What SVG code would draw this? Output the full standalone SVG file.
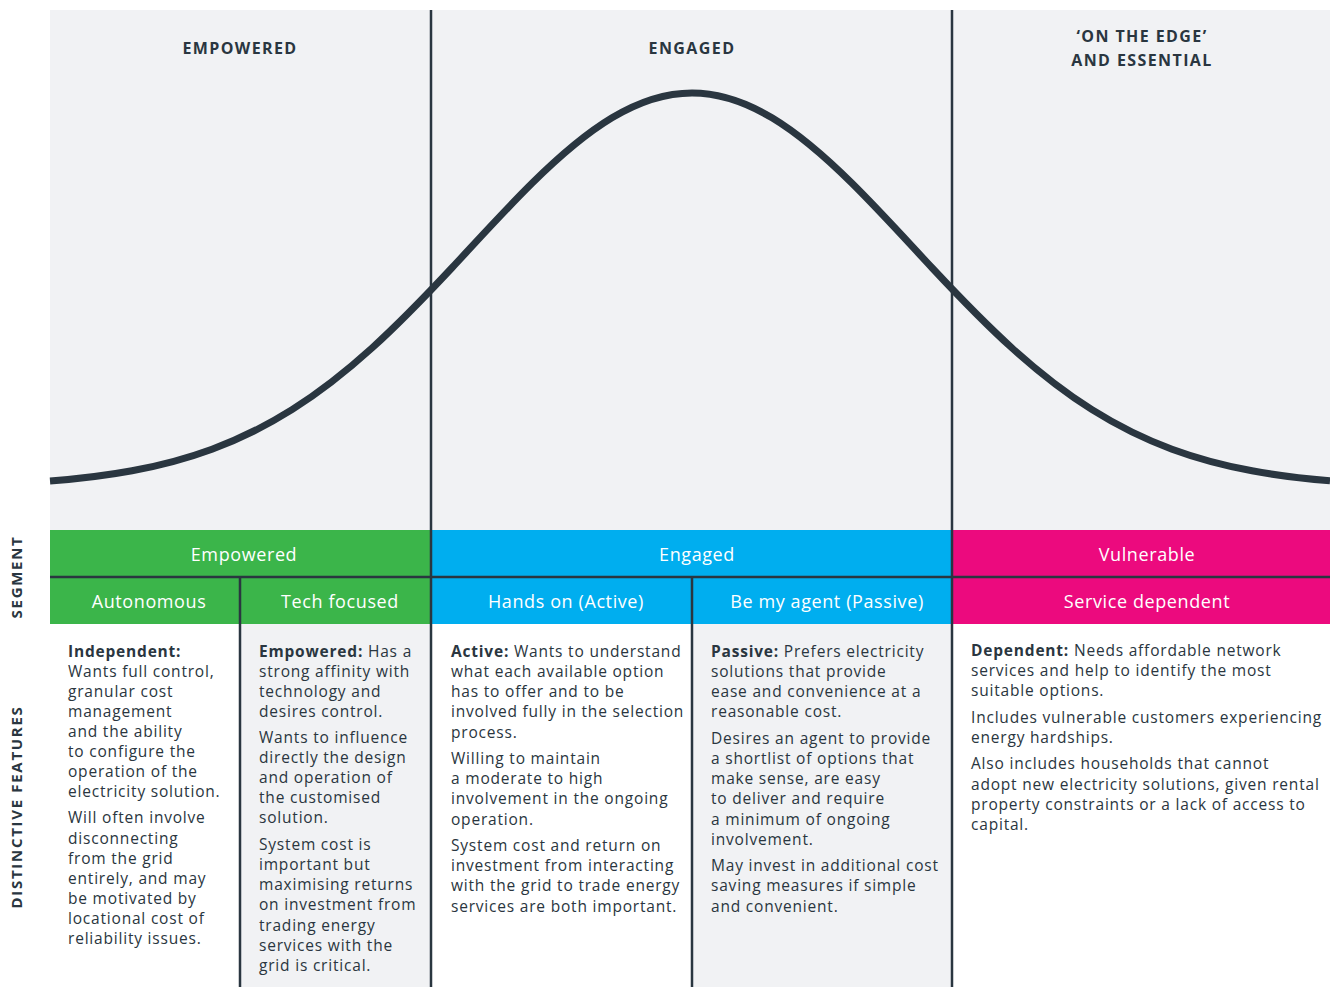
<svg xmlns="http://www.w3.org/2000/svg" width="1330" height="987" viewBox="0 0 1330 987">
  <style>
    .panel { fill: #f1f2f4; }
    .rule { stroke: #2a3640; stroke-width: 2.5; fill: none; }
    .head { font-family: "Open Sans", "Liberation Sans", sans-serif; font-weight: 700; font-size: 16px; letter-spacing: 1.4px; fill: #2a3640; text-anchor: middle; }
    .side { font-family: "Open Sans", "Liberation Sans", sans-serif; font-weight: 700; font-size: 15px; letter-spacing: 1.7px; fill: #2a3640; text-anchor: middle; }
    .bar { font-family: "Open Sans", "Liberation Sans", sans-serif; font-size: 18px; letter-spacing: 0.6px; fill: #ffffff; text-anchor: middle; }
    .body { font-family: "Open Sans", "Liberation Sans", sans-serif; font-size: 15.5px; letter-spacing: 0.8px; fill: #2a3640; }
    .b { font-weight: 700; }
  </style>

  <!-- background panels -->
  <rect width="1330" height="987" fill="#ffffff"/>
  <rect class="panel" x="50" y="10" width="1280" height="520"/>
  <rect class="panel" x="240" y="624" width="191" height="363"/>
  <rect class="panel" x="692" y="624" width="260" height="363"/>

  <!-- segment bars -->
  <g id="segment-empowered">
    <rect x="50" y="530" width="381" height="94" fill="#3bb54a"/>
    <text class="bar" x="244" y="561">Empowered</text>
    <text class="bar" x="149" y="608">Autonomous</text>
    <text class="bar" x="340" y="608">Tech focused</text>
  </g>
  <g id="segment-engaged">
    <rect x="431" y="530" width="521" height="94" fill="#00aeef"/>
    <text class="bar" x="697" y="561">Engaged</text>
    <text class="bar" x="566" y="608">Hands on (Active)</text>
    <text class="bar" x="827" y="608">Be my agent (Passive)</text>
  </g>
  <g id="segment-vulnerable">
    <rect x="952" y="530" width="378" height="94" fill="#ec0a7e"/>
    <text class="bar" x="1147" y="561">Vulnerable</text>
    <text class="bar" x="1147" y="608">Service dependent</text>
  </g>

  <!-- divider rules -->
  <g id="rules">
    <line class="rule" x1="431" y1="10" x2="431" y2="987"/>
    <line class="rule" x1="952" y1="10" x2="952" y2="987"/>
    <line class="rule" x1="50" y1="577" x2="1330" y2="577"/>
    <line class="rule" x1="240" y1="577" x2="240" y2="987"/>
    <line class="rule" x1="692" y1="577" x2="692" y2="987"/>
  </g>

  <!-- distribution curve -->
  <path id="curve" fill="none" stroke="#2a3640" stroke-width="7"
    d="M50,481.05 C77.33,478.93 104.67,475.84 132,470.79
       C158.67,465.86 185.33,459.05 212,449.21
       C238.67,439.37 265.33,426.44 292,409.65
       C318.67,392.86 345.33,372.14 372,348
       C398.67,323.86 425.33,296.3 452,267.75
       C478.67,239.2 505.33,209.71 532,183.34
       C558.67,156.97 585.33,133.87 612,117.84
       C638.67,101.81 665.33,93 692,93
       C718.67,93 745.33,101.81 772,117.84
       C798.67,133.87 825.33,156.97 852,183.34
       C878.67,209.71 905.33,239.2 932,267.75
       C958.67,296.3 985.33,323.86 1012,348
       C1038.67,372.14 1065.33,392.86 1092,409.65
       C1118.67,426.44 1145.33,439.37 1172,449.21
       C1198.67,459.05 1225.33,465.86 1252,470.79
       C1278,475.59 1304,478.63 1330,480.74"/>

  <!-- group headings -->
  <g id="headings">
    <text class="head" x="240" y="54">EMPOWERED</text>
    <text class="head" x="692" y="54">ENGAGED</text>
    <text class="head" x="1142" y="42">‘ON THE EDGE’</text>
    <text class="head" x="1142" y="66">AND ESSENTIAL</text>
  </g>

  <!-- row labels -->
  <g id="row-labels">
    <text class="side" transform="translate(22,577) rotate(-90)">SEGMENT</text>
    <text class="side" transform="translate(22,807) rotate(-90)">DISTINCTIVE FEATURES</text>
  </g>

  <!-- feature descriptions -->
  <g id="features-autonomous">
    <text class="body">
      <tspan x="68" y="657" class="b">Independent:</tspan>
      <tspan x="68" y="677">Wants full control,</tspan>
      <tspan x="68" y="697">granular cost</tspan>
      <tspan x="68" y="717">management</tspan>
      <tspan x="68" y="737">and the ability</tspan>
      <tspan x="68" y="757">to configure the</tspan>
      <tspan x="68" y="777">operation of the</tspan>
      <tspan x="68" y="797">electricity solution.</tspan>
      <tspan x="68" y="823">Will often involve</tspan>
      <tspan x="68" y="844">disconnecting</tspan>
      <tspan x="68" y="864">from the grid</tspan>
      <tspan x="68" y="884">entirely, and may</tspan>
      <tspan x="68" y="904">be motivated by</tspan>
      <tspan x="68" y="924">locational cost of</tspan>
      <tspan x="68" y="944">reliability issues.</tspan>
    </text>
  </g>
  <g id="features-tech-focused">
    <text class="body">
      <tspan x="259" y="657"><tspan class="b">Empowered:</tspan> Has a</tspan>
      <tspan x="259" y="677">strong affinity with</tspan>
      <tspan x="259" y="697">technology and</tspan>
      <tspan x="259" y="717">desires control.</tspan>
      <tspan x="259" y="743">Wants to influence</tspan>
      <tspan x="259" y="763">directly the design</tspan>
      <tspan x="259" y="783">and operation of</tspan>
      <tspan x="259" y="803">the customised</tspan>
      <tspan x="259" y="823">solution.</tspan>
      <tspan x="259" y="850">System cost is</tspan>
      <tspan x="259" y="870">important but</tspan>
      <tspan x="259" y="890">maximising returns</tspan>
      <tspan x="259" y="910">on investment from</tspan>
      <tspan x="259" y="931">trading energy</tspan>
      <tspan x="259" y="951">services with the</tspan>
      <tspan x="259" y="971">grid is critical.</tspan>
    </text>
  </g>
  <g id="features-active">
    <text class="body">
      <tspan x="451" y="657"><tspan class="b">Active:</tspan> Wants to understand</tspan>
      <tspan x="451" y="677">what each available option</tspan>
      <tspan x="451" y="697">has to offer and to be</tspan>
      <tspan x="451" y="717">involved fully in the selection</tspan>
      <tspan x="451" y="738">process.</tspan>
      <tspan x="451" y="764">Willing to maintain</tspan>
      <tspan x="451" y="784">a moderate to high</tspan>
      <tspan x="451" y="804">involvement in the ongoing</tspan>
      <tspan x="451" y="825">operation.</tspan>
      <tspan x="451" y="851">System cost and return on</tspan>
      <tspan x="451" y="871">investment from interacting</tspan>
      <tspan x="451" y="891">with the grid to trade energy</tspan>
      <tspan x="451" y="912">services are both important.</tspan>
    </text>
  </g>
  <g id="features-passive">
    <text class="body">
      <tspan x="711" y="657"><tspan class="b">Passive:</tspan> Prefers electricity</tspan>
      <tspan x="711" y="677">solutions that provide</tspan>
      <tspan x="711" y="697">ease and convenience at a</tspan>
      <tspan x="711" y="717">reasonable cost.</tspan>
      <tspan x="711" y="744">Desires an agent to provide</tspan>
      <tspan x="711" y="764">a shortlist of options that</tspan>
      <tspan x="711" y="784">make sense, are easy</tspan>
      <tspan x="711" y="804">to deliver and require</tspan>
      <tspan x="711" y="825">a minimum of ongoing</tspan>
      <tspan x="711" y="845">involvement.</tspan>
      <tspan x="711" y="871">May invest in additional cost</tspan>
      <tspan x="711" y="891">saving measures if simple</tspan>
      <tspan x="711" y="912">and convenient.</tspan>
    </text>
  </g>
  <g id="features-service-dependent">
    <text class="body">
      <tspan x="971" y="656"><tspan class="b">Dependent:</tspan> Needs affordable network</tspan>
      <tspan x="971" y="676">services and help to identify the most</tspan>
      <tspan x="971" y="696">suitable options.</tspan>
      <tspan x="971" y="723">Includes vulnerable customers experiencing</tspan>
      <tspan x="971" y="743">energy hardships.</tspan>
      <tspan x="971" y="769">Also includes households that cannot</tspan>
      <tspan x="971" y="790">adopt new electricity solutions, given rental</tspan>
      <tspan x="971" y="810">property constraints or a lack of access to</tspan>
      <tspan x="971" y="830">capital.</tspan>
    </text>
  </g>
</svg>
